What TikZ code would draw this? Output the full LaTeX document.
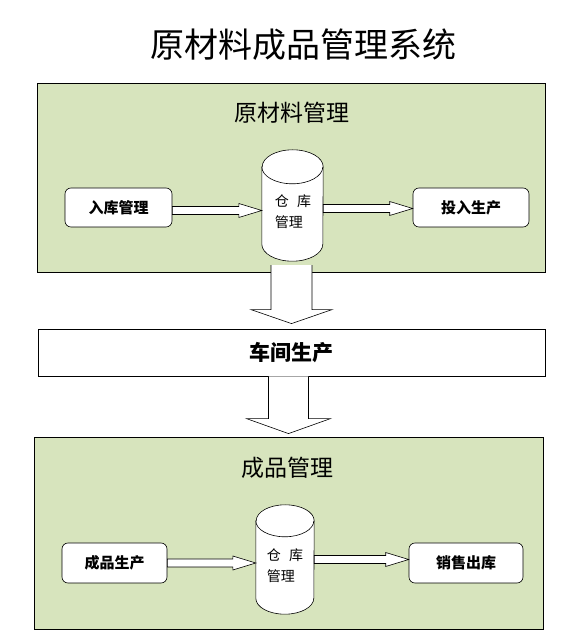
\documentclass[tikz,border=0pt]{standalone}
\usepackage{fontspec}
\setmainfont{Noto Sans CJK SC}
\usetikzlibrary{calc}
\definecolor{panelgreen}{HTML}{D7E4BD}
\tikzset{
  panel/.style={draw=black, line width=0.8pt, fill=panelgreen, inner sep=0pt},
  plainbox/.style={draw=black, line width=0.8pt, fill=white, inner sep=0pt},
  roundbox/.style={draw=black, line width=0.6pt, fill=white, rounded corners=6pt, inner sep=0pt, font=\fontsize{15}{18}\selectfont\bfseries},
  cylbody/.style={draw=black, line width=0.6pt, fill=white},
  arrowline/.style={draw=black, line width=0.6pt, fill=white, line join=miter},
  cyltext/.style={font=\fontsize{14}{21}\selectfont, align=left, inner sep=0pt},
  sectitle/.style={font=\fontsize{23}{26}\selectfont, inner sep=0pt}
}
% hollow flat arrow between two points (horizontal)
\newcommand\flatarrow[2]{%
  \path[arrowline] let \p1=(#1), \p2=(#2) in
    (\x1,\y1+4pt) -- (\x2-23pt,\y1+4pt) -- (\x2-23pt,\y1+7pt) -- (\x2,\y1)
    -- (\x2-23pt,\y1-7pt) -- (\x2-23pt,\y1-4pt) -- (\x1,\y1-4pt) -- cycle;}
% block arrow downward: #1 start, #2 tip, #3 shaft half width, #4 head half width, #5 head length
\newcommand\blockarrow[5]{%
  \path[arrowline] let \p1=(#1), \p2=(#2) in
    (\x2-#3,\y1) -- (\x2-#3,\y2+#5) -- (\x2-#4,\y2+#5) -- (\x2,\y2)
    -- (\x2+#4,\y2+#5) -- (\x2+#3,\y2+#5) -- (\x2+#3,\y1);}
% cylinder: #1 name, #2 ry, #3 rx
\newcommand\cylshape[3]{%
  \path[cylbody] ([yshift=-#2]#1.north west) -- ([yshift=#2]#1.south west)
    arc (180:360:#3 and #2) -- ([yshift=-#2]#1.north east)
    arc (0:180:#3 and #2) -- cycle;
  \draw[line width=0.6pt] ([yshift=-#2]#1.north west) arc (180:360:#3 and #2);}
\begin{document}
\begin{tikzpicture}[x=1pt,y=1pt]
\useasboundingbox (0,0) rectangle (582,635);
\fill[white] (0,0) rectangle (582,635);

% main title
\node[font=\fontsize{34}{40}\selectfont, inner sep=0pt] (title) at (303,590) {原材料成品管理系统};

% top panel
\node[panel, minimum width=508pt, minimum height=189pt] (top) at (291,457.5) {};
\node[sectitle] (toptitle) at (292,522) {原材料管理};
\node[inner sep=0pt, minimum width=61pt, minimum height=111pt] (c1) at (292.5,429.5) {};
\cylshape{c1}{17pt}{30.5pt}
\node[cyltext] (c1t) at (293,423.5) {仓\hspace{0.6em}库\\管理};
\node[roundbox, minimum width=107pt, minimum height=39pt] (in) at (118.5,427.5) {入库管理};
\node[roundbox, minimum width=116pt, minimum height=39pt] (use) at (471,427.5) {投入生产};
\flatarrow{[yshift=-3pt]in.east}{[yshift=-3pt]c1.west}
\flatarrow{[yshift=-3pt]c1.east}{[yshift=-3pt]use.west}

% workshop
\node[plainbox, minimum width=507pt, minimum height=47pt, font=\fontsize{21}{24}\selectfont\bfseries] (ws) at (291.5,282.5) {车间生产};

% bottom panel
\node[panel, minimum width=509pt, minimum height=192pt] (bot) at (288.5,102) {};
\node[sectitle] (bottitle) at (287,167) {成品管理};
\node[inner sep=0pt, minimum width=58pt, minimum height=109pt] (c2) at (285,75.5) {};
\cylshape{c2}{16pt}{29pt}
\node[cyltext] (c2t) at (285,69) {仓\hspace{0.6em}库\\管理};
\node[roundbox, minimum width=105pt, minimum height=40pt] (prod) at (114.5,72) {成品生产};
\node[roundbox, minimum width=114pt, minimum height=40pt] (sell) at (466,72) {销售出库};
\flatarrow{prod.east}{c2.west}
\flatarrow{c2.east}{sell.west}

% block arrows
\blockarrow{[yshift=-4pt]c1.south}{[yshift=5pt]ws.north}{20.5pt}{40.5pt}{14pt}
\blockarrow{ws.south}{[yshift=3pt]bot.north}{20pt}{42pt}{15pt}
\end{tikzpicture}
\end{document}
